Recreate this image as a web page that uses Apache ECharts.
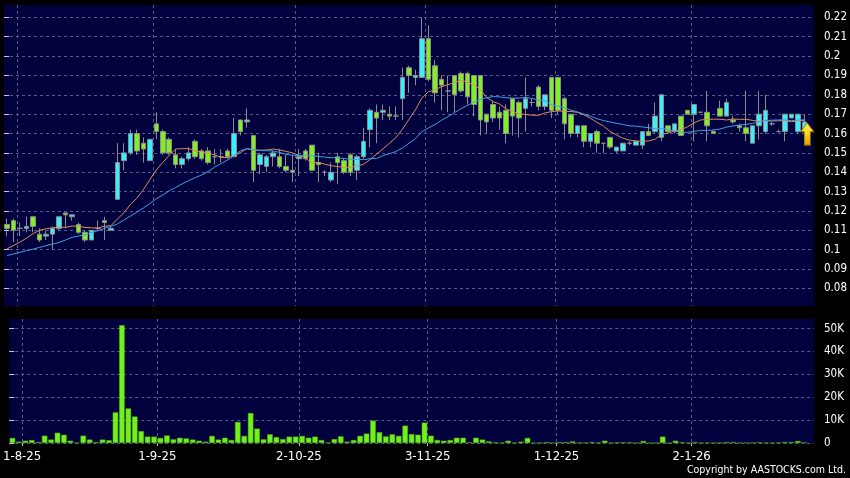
<!DOCTYPE html>
<html><head><meta charset="utf-8">
<script src="https://cdn.jsdelivr.net/npm/echarts@6/dist/echarts.min.js"></script>
<style>html,body{margin:0;padding:0;background:#000;}#c{width:850px;height:478px;}</style>
</head><body><div id="c"></div>
<script>
// Trading days (D-M-YY); the last slot is an empty band at the right edge
const dates = ['30-7-25','31-7-25',
'1-8-25','4-8-25','5-8-25','6-8-25','7-8-25','8-8-25','11-8-25','12-8-25','13-8-25','14-8-25','15-8-25','18-8-25','19-8-25','20-8-25','21-8-25','22-8-25','25-8-25','26-8-25','27-8-25','28-8-25','29-8-25',
'1-9-25','2-9-25','3-9-25','4-9-25','5-9-25','8-9-25','9-9-25','10-9-25','11-9-25','12-9-25','15-9-25','16-9-25','17-9-25','18-9-25','19-9-25','22-9-25','23-9-25','24-9-25','25-9-25','26-9-25','29-9-25','30-9-25',
'2-10-25','3-10-25','6-10-25','8-10-25','9-10-25','10-10-25','13-10-25','14-10-25','15-10-25','16-10-25','17-10-25','20-10-25','21-10-25','22-10-25','23-10-25','24-10-25','27-10-25','28-10-25','30-10-25','31-10-25',
'3-11-25','4-11-25','5-11-25','6-11-25','7-11-25','10-11-25','11-11-25','12-11-25','13-11-25','14-11-25','17-11-25','18-11-25','19-11-25','20-11-25','21-11-25','24-11-25','25-11-25','26-11-25','27-11-25','28-11-25',
'1-12-25','2-12-25','3-12-25','4-12-25','5-12-25','8-12-25','9-12-25','10-12-25','11-12-25','12-12-25','15-12-25','16-12-25','17-12-25','18-12-25','19-12-25','22-12-25','23-12-25','24-12-25','29-12-25','30-12-25','31-12-25',
'2-1-26','5-1-26','6-1-26','7-1-26','8-1-26','9-1-26','12-1-26','13-1-26','14-1-26','15-1-26','16-1-26','19-1-26','20-1-26','21-1-26','22-1-26','23-1-26','26-1-26','27-1-26','28-1-26'];

const dateTicks = ['1-8-25','1-9-25','2-10-25','3-11-25','1-12-25','2-1-26'];
const priceTicks = [0.08,0.09,0.10,0.11,0.12,0.13,0.14,0.15,0.16,0.17,0.18,0.19,0.20,0.21,0.22];
const volumeTicks = [0,10000,20000,30000,40000,50000];

const open = [.113,.115,.111,.111,.117,.108,.107,.108,.111,.119,.117,.113,.109,.105,.111,.115,.110,.126,.146,.150,.160,.155,.146,.165,.161,.157,.149,.144,.147,.156,.151,.151,.148,.148,.151,.148,.167,.166,.159,.144,.143,.148,.148,.143,.141,.147,.151,.154,.145,.140,.136,.148,.146,.149,.141,.148,.162,.171,.171,.170,.169,.178,.194,.189,.189,.209,.195,.188,.182,.190,.191,.191,.190,.190,.170,.175,.171,.172,.178,.176,.173,.176,.184,.174,.189,.189,.178,.170,.160,.164,.156,.161,.155,.158,.151,.151,.155,.154,.154,.161,.161,.158,.164,.161,.169,.172,.170,.171,.171,.161,.173,.169,.167,.164,.163,.155,.164,.161,.165,.161,.161,.168,.161,.162];
const high = [.116,.116,.114,.117,.117,.111,.110,.112,.117,.119,.118,.114,.110,.110,.115,.117,.112,.155,.155,.162,.162,.158,.157,.171,.162,.158,.152,.148,.153,.157,.152,.153,.152,.152,.152,.168,.167,.173,.159,.150,.149,.151,.152,.149,.149,.152,.152,.154,.150,.141,.145,.150,.147,.150,.149,.163,.173,.175,.175,.174,.174,.194,.195,.193,.220,.216,.198,.190,.190,.190,.192,.192,.190,.190,.170,.177,.174,.175,.178,.177,.189,.178,.185,.180,.189,.189,.179,.170,.164,.164,.160,.162,.155,.158,.153,.155,.156,.156,.161,.165,.176,.180,.164,.165,.169,.172,.175,.171,.182,.162,.177,.178,.169,.165,.182,.164,.182,.180,.166,.162,.170,.170,.170,.170];
const low = [.107,.104,.107,.109,.109,.104,.105,.100,.110,.111,.115,.108,.104,.105,.110,.105,.110,.126,.141,.149,.149,.145,.146,.157,.149,.149,.142,.142,.146,.147,.146,.144,.144,.145,.147,.148,.159,.163,.135,.139,.140,.143,.142,.140,.135,.138,.146,.141,.135,.138,.135,.134,.139,.138,.136,.147,.153,.155,.167,.167,.167,.167,.181,.185,.189,.187,.176,.172,.171,.171,.181,.175,.169,.159,.160,.166,.162,.155,.159,.158,.161,.174,.172,.172,.168,.170,.157,.158,.158,.153,.153,.150,.150,.152,.150,.151,.154,.154,.152,.159,.160,.156,.160,.160,.159,.170,.156,.171,.156,.160,.169,.169,.165,.161,.156,.155,.157,.160,.164,.161,.156,.168,.160,.161];
const close = [.111,.110,.111,.112,.112,.105,.108,.111,.117,.118,.118,.109,.105,.110,.111,.114,.111,.145,.150,.160,.151,.152,.157,.161,.150,.150,.144,.147,.150,.148,.147,.145,.148,.148,.148,.160,.161,.167,.141,.149,.148,.150,.143,.141,.140,.148,.147,.141,.144,.140,.140,.145,.140,.140,.148,.156,.172,.168,.172,.169,.169,.189,.190,.190,.209,.188,.181,.185,.182,.180,.182,.179,.175,.167,.166,.168,.168,.160,.169,.168,.178,.176,.174,.180,.172,.172,.165,.160,.164,.156,.160,.155,.155,.153,.153,.155,.155,.156,.161,.159,.169,.180,.161,.165,.159,.170,.175,.171,.164,.160,.169,.176,.166,.163,.160,.164,.170,.172,.165,.161,.170,.170,.170,.166];

const ma10 = [.1005,.1022,.1040,.1060,.1083,.1100,.1108,.1113,.1117,.1115,.1122,.1121,.1115,.1113,.1112,.1121,.1124,.1158,.1191,.1233,.1266,.1309,.1361,.1412,.1451,.1487,.1520,.1522,.1522,.1510,.1506,.1499,.1490,.1477,.1475,.1485,.1502,.1522,.1513,.1514,.1515,.1520,.1515,.1508,.1500,.1488,.1474,.1448,.1451,.1442,.1434,.1429,.1426,.1425,.1433,.1441,.1466,.1493,.1521,.1550,.1579,.1623,.1673,.1723,.1784,.1816,.1825,.1842,.1852,.1863,.1876,.1866,.1851,.1828,.1785,.1765,.1752,.1727,.1714,.1702,.1698,.1695,.1694,.1707,.1713,.1717,.1714,.1714,.1709,.1697,.1679,.1658,.1639,.1612,.1593,.1576,.1566,.1562,.1559,.1562,.1571,.1596,.1602,.1614,.1620,.1635,.1655,.1670,.1673,.1674,.1674,.1670,.1675,.1673,.1674,.1668,.1663,.1664,.1665,.1666,.1667,.1661,.1665,.1668];
const ma20 = [.0970,.0978,.0987,.0995,.1003,.1012,.1021,.1029,.1037,.1050,.1064,.1070,.1077,.1088,.1098,.1110,.1120,.1133,.1153,.1174,.1194,.1215,.1238,.1263,.1282,.1304,.1322,.1340,.1357,.1372,.1386,.1404,.1426,.1445,.1463,.1486,.1511,.1522,.1518,.1512,.1511,.1510,.1503,.1493,.1488,.1487,.1488,.1485,.1482,.1478,.1475,.1475,.1471,.1467,.1467,.1465,.1470,.1471,.1486,.1496,.1507,.1526,.1550,.1574,.1609,.1629,.1646,.1668,.1687,.1707,.1728,.1745,.1762,.1776,.1785,.1791,.1789,.1785,.1783,.1783,.1787,.1781,.1773,.1768,.1749,.1741,.1733,.1721,.1712,.1700,.1689,.1677,.1667,.1660,.1653,.1647,.1640,.1638,.1634,.1630,.1625,.1627,.1621,.1613,.1607,.1606,.1611,.1616,.1616,.1618,.1623,.1633,.1639,.1644,.1647,.1652,.1659,.1667,.1669,.1670,.1671,.1666,.1670,.1671];

const volume = [2200,600,1000,1300,400,3200,1500,4500,3600,1000,100,3200,1500,400,1500,1200,13400,51500,15100,11600,5200,2800,2800,2200,3300,1600,2300,2000,1500,1000,600,3100,1500,2300,1300,9200,3100,13100,6300,1600,3800,2600,1700,2800,2800,3100,2300,2800,1300,200,1700,2900,600,1300,3100,4100,9800,4700,2900,3800,3100,7600,3900,3600,8900,3200,1300,1000,1300,2300,2300,300,2300,1500,700,300,100,1000,100,600,2200,0,100,400,100,400,400,700,100,100,400,100,1000,0,300,300,300,0,900,0,100,2800,0,1000,300,0,400,0,100,100,100,400,400,100,100,100,300,100,0,100,400,400,900,200];

const lastArrow = {index: 123, price: 0.1597};

const candleData = open.map((o, i) => [o, close[i], low[i], high[i]]);
// band-boundary positions (left edge of each labelled day's band) on a value scale 0..N
const tickPos = dateTicks.map(d => dates.indexOf(d));

const FONT = "'DejaVu Sans Condensed', 'DejaVu Sans', sans-serif";
const NAVY = '#01013d';
const GRIDLINE = {type: [3, 3], color: '#5a5a8a', width: 1};

const chart = echarts.init(document.getElementById('c'), null, {renderer: 'canvas'});
chart.setOption({
  animation: false,
  backgroundColor: '#000',
  textStyle: {fontFamily: FONT},
  grid: [
    {left: 4, top: 5, width: 810, height: 301, show: true, backgroundColor: NAVY, borderWidth: 0},
    {left: 4, top: 319, width: 810, height: 124, show: true, backgroundColor: NAVY, borderWidth: 0}
  ],
  xAxis: [
    {type: 'category', gridIndex: 0, data: dates, boundaryGap: true, show: false},
    {type: 'category', gridIndex: 1, data: dates, boundaryGap: true, show: false},
    {type: 'value', gridIndex: 0, position: 'bottom', min: 0, max: dates.length,
     axisLine: {show: false}, axisLabel: {show: false},
     axisTick: {show: false, customValues: tickPos},
     splitLine: {show: true, lineStyle: GRIDLINE}},
    {type: 'value', gridIndex: 1, position: 'bottom', min: 0, max: dates.length,
     axisLine: {show: false},
     axisTick: {show: true, length: 3, customValues: tickPos, lineStyle: {color: '#bbbbbb'}},
     axisLabel: {show: true, customValues: tickPos, color: '#ffffff', fontSize: 13, margin: 7,
                 fontFamily: FONT, formatter: v => dates[Math.round(v)]},
     splitLine: {show: true, lineStyle: GRIDLINE}}
  ],
  yAxis: [
    {type: 'value', gridIndex: 0, position: 'right', min: 0.0709, max: 0.2264,
     axisLine: {show: false},
     axisTick: {show: true, length: 5, customValues: priceTicks, lineStyle: {color: '#cccccc'}},
     axisLabel: {show: true, customValues: priceTicks, color: '#ffffff', fontSize: 11.5, margin: 10,
                 fontFamily: FONT, formatter: v => String(parseFloat(Number(v).toFixed(2)))},
     splitLine: {show: true, lineStyle: GRIDLINE}},
    {type: 'value', gridIndex: 1, position: 'right', min: 0, max: 54200,
     axisLine: {show: false},
     axisTick: {show: true, length: 5, customValues: volumeTicks, lineStyle: {color: '#cccccc'}},
     axisLabel: {show: true, customValues: volumeTicks, color: '#ffffff', fontSize: 11.5, margin: 10,
                 fontFamily: FONT, formatter: v => v === 0 ? '0' : (v / 1000) + 'K'},
     splitLine: {show: true, lineStyle: GRIDLINE}}
  ],
  series: [
    {type: 'candlestick', xAxisIndex: 0, yAxisIndex: 0, data: candleData, barWidth: 5,
     itemStyle: {color: '#38f0fb', color0: '#7ff020', borderColor: '#8c8c8c', borderColor0: '#8c8c8c', borderWidth: 1},
     markPoint: {
       silent: true, animation: false,
       symbol: 'path://M6.5,0 L13,8.5 L9.5,8.5 L9.5,22 L3.5,22 L3.5,8.5 L0,8.5 Z',
       symbolSize: [13, 22], symbolOffset: [3, 0], label: {show: false},
       itemStyle: {color: new echarts.graphic.LinearGradient(0, 0, 0, 1, [{offset: 0, color: '#fff45a'}, {offset: 0.5, color: '#ffd21e'}, {offset: 1, color: '#e49a00'}]),
                   borderColor: '#a87400', borderWidth: 0.8},
       data: [{coord: [lastArrow.index, lastArrow.price]}]
     }},
    {type: 'line', xAxisIndex: 0, yAxisIndex: 0, data: ma10, symbol: 'none', silent: true,
     lineStyle: {color: '#de8a5c', width: 1}, z: 3},
    {type: 'line', xAxisIndex: 0, yAxisIndex: 0, data: ma20, symbol: 'none', silent: true,
     lineStyle: {color: '#3e9fe6', width: 1}, z: 3},
    {type: 'bar', xAxisIndex: 1, yAxisIndex: 1, data: volume, barWidth: 5.5,
     itemStyle: {color: '#72f01a', borderColor: '#4cb010', borderWidth: 0.5}}
  ],
  graphic: [
    {type: 'text', right: 4, bottom: 2,
     style: {text: 'Copyright by AASTOCKS.com Ltd.', fill: '#ffffff', font: "10.5px 'DejaVu Sans Condensed', 'DejaVu Sans', sans-serif"}}
  ]
});
</script>
</body></html>
